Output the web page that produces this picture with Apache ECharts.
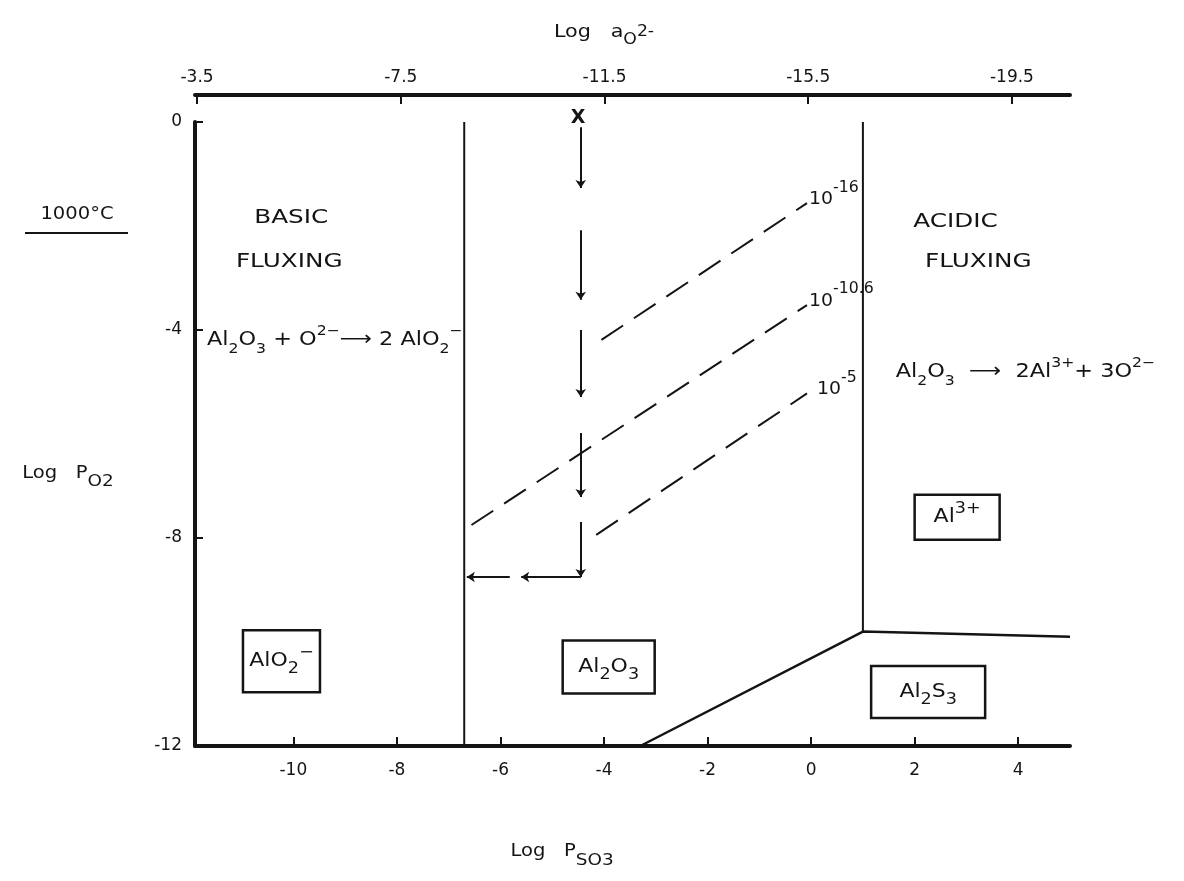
<!DOCTYPE html>
<html><head><meta charset="utf-8">
<script src="https://cdn.jsdelivr.net/npm/echarts@6/dist/echarts.min.js"></script>
<style>html,body{margin:0;padding:0;background:#fff}#main{width:1184px;height:881px}</style>
</head><body><div id="main"></div>
<script>
// ---------------- data ----------------
const yTickValues = [0, -4, -8, -12];
const bottomTickValues = [-10, -8, -6, -4, -2, 0, 2, 4];
const topTickValues = [-3.5, -7.5, -11.5, -15.5, -19.5];

// phase boundaries  [log P_SO3, log P_O2]
const basicBoundary = [[-6.7, 0], [-6.7, -12]];
const acidicBoundary = [[1.0, 0], [1.0, -9.8]];
const sulfideBoundary = [[-3.3, -12], [1.0, -9.8], [5.0, -9.9]];

// iso-activity lines of a_O2- (dashed)
const isoLog16 = [[-4.05, -4.19], [-0.08, -1.56]];
const isoLog106 = [[-6.56, -7.75], [-0.08, -3.52]];
const isoLog5 = [[-4.15, -7.94], [-0.08, -5.22]];
const isoLabels = ['-16', '-10.6', '-5'];

// dashed reaction path with arrows, starting at the X
const startPoint = [-4.5, 0.08];
const pathSegments = [
  [[-4.45, -0.1], [-4.45, -1.27]],
  [[-4.45, -2.08], [-4.45, -3.42]],
  [[-4.45, -4.0], [-4.45, -5.29]],
  [[-4.45, -5.98], [-4.45, -7.21]],
  [[-4.45, -7.69], [-4.45, -8.75]],
  [[-4.45, -8.75], [-5.6, -8.75]],
  [[-5.82, -8.75], [-6.65, -8.75]]
];

// region annotations (anchors in data coordinates)
const regionTitles = [
  { text: 'BASIC', at: [-10.04, -1.85] },
  { text: 'FLUXING', at: [-10.08, -2.69] },
  { text: 'ACIDIC', at: [2.79, -1.92] },
  { text: 'FLUXING', at: [3.23, -2.69] }
];
const reactions = [
  { text: 'Al{sub|2}O{sub|3} + O{sup|2−}⟶ 2 AlO{sub|2}{sup|−}', at: [-9.2, -4.19] },
  { text: 'Al{sub|2}O{sub|3}  ⟶  2Al{sup|3+}+ 3O{sup|2−}', at: [4.14, -4.81] }
];
const phaseBoxes = [
  { text: 'AlO{sub|2}{sup|−}', at: [-10.23, -10.37] },
  { text: 'Al{sub|2}O{sub|3}', at: [-3.91, -10.48] },
  { text: 'Al{sup|3+}', at: [2.82, -7.6] },
  { text: 'Al{sub|2}S{sub|3}', at: [2.26, -10.96] }
];
const boxSizes = [[77, 62], [92, 53], [85, 45], [114, 52]];

// ---------------- styling ----------------
const INK = '#141414';
const FONT = 'DejaVu Sans';
const chart = echarts.init(document.getElementById('main'), null, { renderer: 'canvas' });

const axisText = { color: INK, fontFamily: FONT, fontSize: 17 };

const option = {
  backgroundColor: '#ffffff',
  animation: false,
  grid: { left: 195, top: 122, width: 875, height: 624 },
  xAxis: [
    {
      type: 'value', position: 'bottom', min: -11.9, max: 5,
      axisLine: { onZero: false, lineStyle: { color: INK, width: 4 } },
      axisTick: { inside: true, length: 9, lineStyle: { color: INK, width: 2 }, customValues: bottomTickValues },
      axisLabel: Object.assign({ margin: 16, customValues: bottomTickValues }, axisText),
      splitLine: { show: false }
    },
    {
      type: 'value', position: 'top', offset: 27, inverse: true, min: -20.64, max: -3.46,
      axisLine: { onZero: false, lineStyle: { color: INK, width: 4 } },
      axisTick: { inside: true, length: 9, lineStyle: { color: INK, width: 2 }, customValues: topTickValues },
      axisLabel: Object.assign({ margin: 9, customValues: topTickValues }, axisText),
      splitLine: { show: false }
    }
  ],
  yAxis: {
    type: 'value', min: -12, max: 0, interval: 4,
    axisLine: { onZero: false, lineStyle: { color: INK, width: 4 } },
    axisTick: { inside: true, length: 8, lineStyle: { color: INK, width: 2 } },
    axisLabel: Object.assign({ margin: 13 }, axisText),
    splitLine: { show: false }
  },
  series: [
    { type: 'line', data: basicBoundary, symbol: 'none', silent: true, lineStyle: { color: INK, width: 2 } },
    { type: 'line', data: acidicBoundary, symbol: 'none', silent: true, lineStyle: { color: INK, width: 2 } },
    { type: 'line', data: sulfideBoundary, symbol: 'none', silent: true, lineStyle: { color: INK, width: 2.5 } },
    { type: 'line', data: isoLog16, symbol: 'none', silent: true, lineStyle: { color: INK, width: 2, type: [26, 13] } },
    { type: 'line', data: isoLog106, symbol: 'none', silent: true, lineStyle: { color: INK, width: 2, type: [26, 13] } },
    { type: 'line', data: isoLog5, symbol: 'none', silent: true, lineStyle: { color: INK, width: 2, type: [26, 13] } },
    {
      type: 'lines', coordinateSystem: 'cartesian2d', silent: true,
      symbol: ['none', 'arrow'], symbolSize: 8,
      lineStyle: { color: INK, width: 2, opacity: 1 },
      data: pathSegments.map(s => ({ coords: s }))
    }
  ]
};
chart.setOption(option);

function rich(s, ratio) {
  const small = Math.round(s * (ratio || 0.72));
  return {
    sub: { fontSize: small, fontFamily: FONT, fill: INK, verticalAlign: 'bottom', lineHeight: small },
    sup: { fontSize: small, fontFamily: FONT, fill: INK, verticalAlign: 'top', lineHeight: small },
    mid: { fontSize: small, fontFamily: FONT, fill: INK, verticalAlign: 'middle', lineHeight: small }
  };
}
function txt(x, y, text, size, o) {
  o = o || {};
  return {
    type: 'text', x: x, y: y, scaleX: o.sx == null ? 1.2 : o.sx, silent: true, z: 100,
    style: {
      text: text, fontFamily: FONT, fontSize: size, fill: INK, fontWeight: o.fw || 'normal',
      lineHeight: Math.round(size * (o.lh || 1.6)),
      align: o.align || 'center', verticalAlign: o.va || 'middle', rich: rich(size, o.ratio)
    }
  };
}

function buildGraphics() {
  const P = p => chart.convertToPixel({ seriesIndex: 0 }, p);
  const els = [];
  // axis titles
  els.push(txt(604, 32, 'Log   a{sub|O}{mid|2-}', 18, { lh: 1.7, ratio: 0.85, sx: 1.15 }));
  els.push(txt(77, 215, '1000°C', 17, { sx: 1.15 }));
  els.push({ type: 'line', silent: true, shape: { x1: 25, y1: 233, x2: 128, y2: 233 }, style: { stroke: INK, lineWidth: 2 } });
  els.push(txt(68, 474, 'Log   P{sub|O2}', 17, { lh: 1.8, ratio: 0.95, sx: 1.15 }));
  els.push(txt(562, 852, 'Log   P{sub|SO3}', 17, { lh: 2.0, ratio: 0.95, sx: 1.15 }));

  regionTitles.forEach(r => { const p = P(r.at); els.push(txt(p[0], p[1], r.text, 19, { sx: 1.3 })); });
  reactions.forEach(r => { const p = P(r.at); els.push(txt(p[0], p[1], r.text, 20, { sx: 1.12 })); });
  phaseBoxes.forEach((b, i) => {
    const p = P(b.at), w = boxSizes[i][0], h = boxSizes[i][1];
    els.push({ type: 'rect', silent: true, z: 90, shape: { x: p[0] - w / 2, y: p[1] - h / 2, width: w, height: h }, style: { fill: '#fff', stroke: INK, lineWidth: 2.5 } });
    els.push(txt(p[0], p[1], b.text, 20, { sx: 1.1, ratio: 0.8 }));
  });
  // iso-line labels at line ends
  [isoLog16, isoLog106, isoLog5].forEach((ln, i) => {
    const p = P(ln[ln.length - 1]);
    const dx = i === 2 ? 10 : 2;
    els.push(txt(p[0] + dx, p[1] - 4, '10{sup|' + isoLabels[i] + '}', 18, { align: 'left', sx: 1.05, lh: 2.1, ratio: 0.85 }));
  });
  // start X
  const s = P(startPoint);
  els.push(txt(s[0], s[1], 'X', 19, { sx: 1.0, fw: 'bold' }));
  chart.setOption({ graphic: els });
}
buildGraphics();
</script></body></html>
